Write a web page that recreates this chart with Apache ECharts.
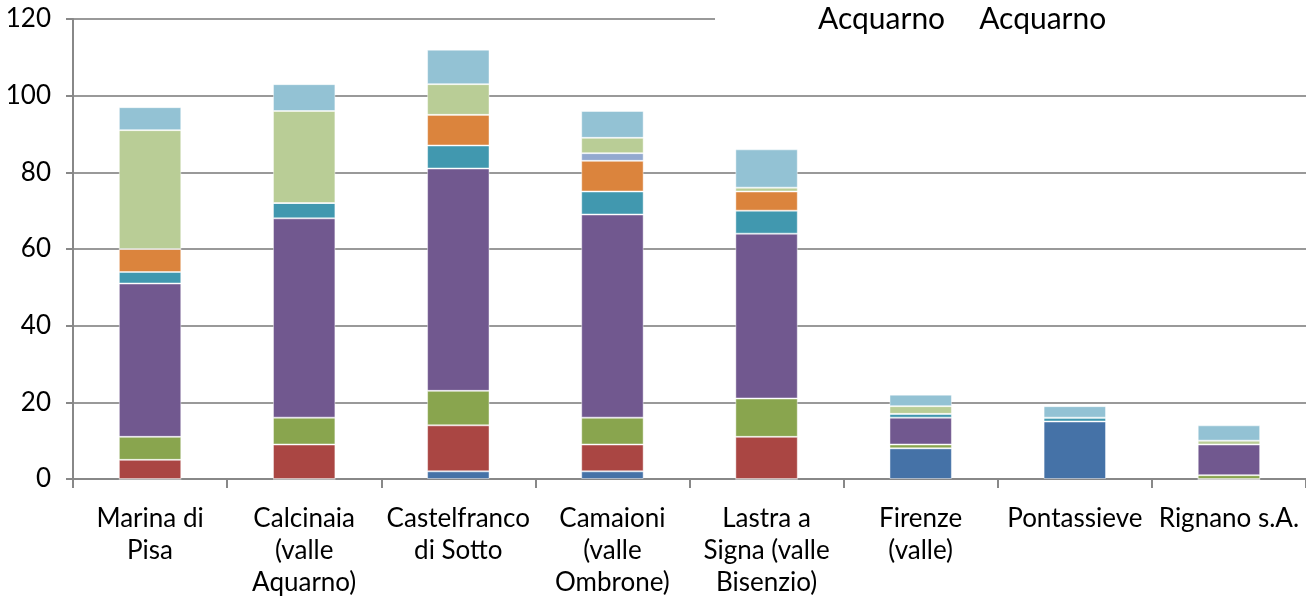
<!DOCTYPE html>
<html>
<head>
<meta charset="utf-8">
<script src="https://cdn.jsdelivr.net/npm/echarts@6/dist/echarts.min.js"></script>
<style>html,body{margin:0;padding:0;background:#fff;}#c{width:1306px;height:602px;}</style>
</head>
<body>
<div id="c"></div>
<script>
var categories = ['Marina di\nPisa', 'Calcinaia\n(valle\nAquarno)', 'Castelfranco\ndi Sotto', 'Camaioni\n(valle\nOmbrone)', 'Lastra a\nSigna (valle\nBisenzio)', 'Firenze\n(valle)', 'Pontassieve', 'Rignano s.A.'];
var yTicks = [0, 20, 40, 60, 80, 100, 120];
var seriesNames = ['Acquarno', 'Acquarno ', 'S3', 'S4', 'S5', 'S6', 'S7', 'S8', 'S9'];
var s1 = [0, 0, 2, 2, 0, 8, 15, 0];
var s2 = [5, 9, 12, 7, 11, 0, 0, 0];
var s3 = [6, 7, 9, 7, 10, 1, 0, 1];
var s4 = [40, 52, 58, 53, 43, 7, 0, 8];
var s5 = [3, 4, 6, 6, 6, 1, 1, 0];
var s6 = [6, 0, 8, 8, 5, 0, 0, 0];
var s7 = [0, 0, 0, 2, 0, 0, 0, 0];
var s8 = [31, 24, 8, 4, 1, 2, 0, 1];
var s9 = [6, 7, 9, 7, 10, 3, 3, 4];
var colors = ['#4572A7', '#AA4643', '#89A54E', '#71588F', '#4198AF', '#DB843D', '#93A9CF', '#B9CD96', '#93C2D4'];
var values = [s1, s2, s3, s4, s5, s6, s7, s8, s9];

var font = 'Lato, "Open Sans", sans-serif';
var chart = echarts.init(document.getElementById('c'));
chart.setOption({
  animation: false,
  color: colors,
  graphic: [{
    type: 'rect', left: 715, top: 0, z: 5,
    shape: { width: 600, height: 38 },
    style: { fill: '#fff' }
  }],
  legend: {
    data: [seriesNames[0], seriesNames[1]],
    left: 812, top: 4, z: 10,
    padding: 0,
    itemWidth: 0, itemHeight: 0, itemGap: 28,
    icon: 'rect',
    textStyle: { fontFamily: font, fontSize: 30, color: '#000' },
    selectedMode: false
  },
  grid: { left: 73, right: -3, top: 19, bottom: 123 },
  xAxis: {
    type: 'category',
    data: categories,
    axisLine: { lineStyle: { color: '#888', width: 2 } },
    axisTick: { show: true, length: 9, lineStyle: { color: '#888', width: 2 } },
    axisLabel: { fontFamily: font, fontSize: 26, color: '#000', lineHeight: 32, margin: 24, interval: 0 }
  },
  yAxis: {
    type: 'value', min: yTicks[0], max: yTicks[yTicks.length - 1], interval: 20,
    axisLine: { show: true, lineStyle: { color: '#888', width: 2 } },
    axisTick: { show: true, length: 7, lineStyle: { color: '#888', width: 2 } },
    splitLine: { lineStyle: { color: '#999', width: 2 } },
    axisLabel: { fontFamily: font, fontSize: 26, color: '#000', margin: 22 }
  },
  series: values.map(function (v, i) {
    return {
      name: seriesNames[i], type: 'bar', stack: 'a', data: v, barWidth: '40.5%',
      itemStyle: { color: colors[i], borderColor: 'rgba(255,255,255,0.45)', borderWidth: 1 }
    };
  })
});
</script>
</body>
</html>
